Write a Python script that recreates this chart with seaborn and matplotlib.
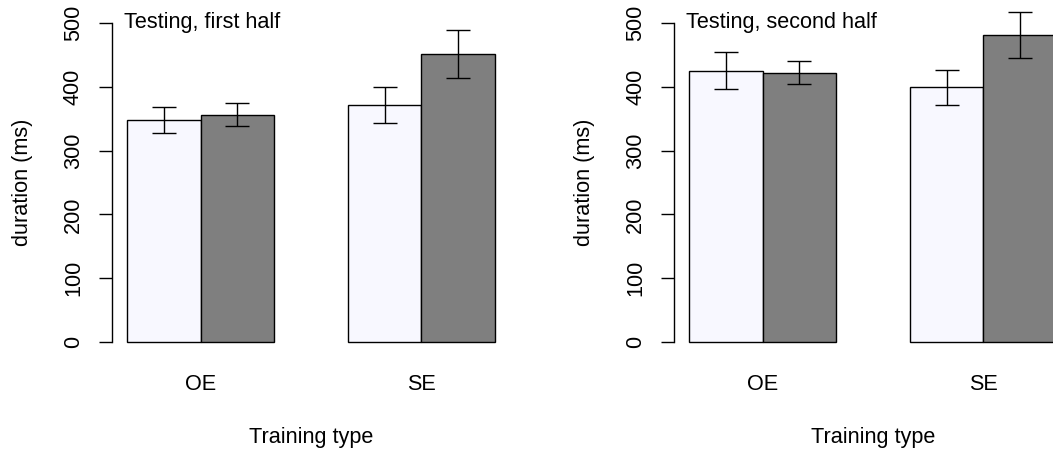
import matplotlib
matplotlib.use("Agg")
import matplotlib.pyplot as plt
import seaborn as sns
import pandas as pd

# ---- data ----
training = ["OE", "SE"]
conditions = ["light", "dark"]
first_light = [348, 372]
first_dark = [356, 451]
first_light_err = [20, 28]
first_dark_err = [18, 38]
second_light = [425, 399]
second_dark = [422, 481]
second_light_err = [29, 27]
second_dark_err = [18, 36]
titles = ["Testing, first half", "Testing, second half"]
y_ticks = [0, 100, 200, 300, 400, 500]
bar_colors = ["#F8F8FF", "#7F7F7F"]

sns.set_style("white")
plt.rcParams["font.family"] = ["Liberation Sans", "DejaVu Sans"]
plt.rcParams["text.color"] = "black"
plt.rcParams["axes.labelcolor"] = "black"
plt.rcParams["xtick.color"] = "black"
plt.rcParams["ytick.color"] = "black"
FS = 15.6

fig = plt.figure(figsize=(10.53, 4.5), dpi=100)
positions = [[0.10665, 0.2116, 0.3774, 0.7657], [0.6404, 0.2116, 0.3774, 0.7657]]

panels = [
    (first_light, first_dark, first_light_err, first_dark_err),
    (second_light, second_dark, second_light_err, second_dark_err),
]

for pos, (light, dark, light_err, dark_err), title in zip(positions, panels, titles):
    ax = fig.add_axes(pos)
    df = pd.DataFrame({
        "training": training * 2,
        "condition": [conditions[0]] * 2 + [conditions[1]] * 2,
        "duration": light + dark,
    })
    sns.barplot(data=df, x="training", y="duration", hue="condition",
                order=training, hue_order=conditions, palette=bar_colors,
                width=2 / 3, gap=0, errorbar=None, edgecolor="black",
                linewidth=1.0, saturation=1, legend=False, ax=ax)
    for cont, errs in zip(ax.containers, [light_err, dark_err]):
        xs = [p.get_x() + p.get_width() / 2 for p in cont.patches]
        ys = [p.get_height() for p in cont.patches]
        ax.errorbar(xs, ys, yerr=errs, fmt="none", ecolor="black",
                    elinewidth=1.0, capsize=8.3, capthick=1.0)
    ax.set_xlim(-0.4, 1.4)
    ax.set_ylim(-20, 520)
    ax.set_yticks(y_ticks)
    ax.set_yticklabels([str(t) for t in y_ticks], rotation=90, va="center")
    for s in ["top", "right", "bottom"]:
        ax.spines[s].set_visible(False)
    ax.spines["left"].set_bounds(0, 500)
    ax.spines["left"].set_linewidth(1.0)
    ax.spines["left"].set_color("black")
    ax.tick_params(axis="y", length=9.4, width=1.0, color="black",
                   labelsize=FS, pad=11, left=True, labelcolor="black")
    ax.tick_params(axis="x", length=0, labelsize=FS, pad=14, labelcolor="black")
    ax.set_xlabel("Training type", fontsize=FS, color="black")
    ax.set_ylabel("duration (ms)", fontsize=FS, color="black")
    ax.xaxis.set_label_coords(0.5, -0.21)
    ax.yaxis.set_label_coords(-0.2, 0.5)
    ax.text(0.0294, 0.9475, title, transform=ax.transAxes, fontsize=FS,
            ha="left", va="baseline", color="black")
    ax.patch.set_alpha(0)

fig.savefig("out.png", dpi=100)
